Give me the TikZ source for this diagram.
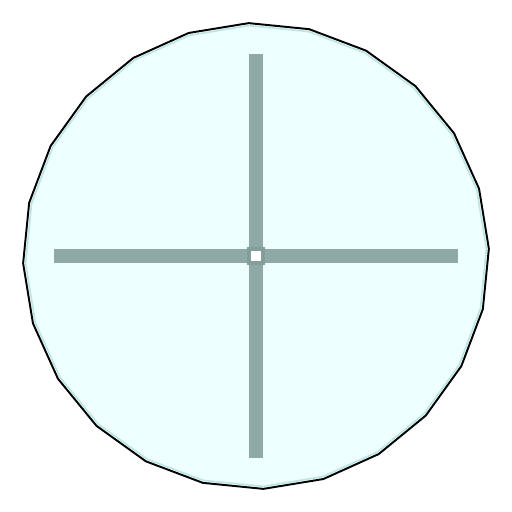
\documentclass[tikz,border=0pt]{standalone}
\definecolor{discfill}{RGB}{238,255,255}
\definecolor{rimcyan}{RGB}{190,228,228}
\definecolor{bargray}{RGB}{143,169,169}
\definecolor{hubgray}{RGB}{132,158,158}
\begin{document}
\begin{tikzpicture}[x=0.02cm, y=0.02cm,
    disc/.style={draw=black, fill=discfill, line width=1.1pt, line join=round},
    rim/.style ={draw=rimcyan, line width=0.9pt, line join=round},
    bar/.style ={fill=bargray},
    hub/.style ={fill=hubgray},
  ]
  \useasboundingbox (-256,-256) rectangle (256,256);
  % outer 24-gon
  \draw[disc] (1.8:233) \foreach \k in {1,...,23}{ -- ({1.8+\k*15}:233) } -- cycle;
  \draw[rim] (1.8:230.5) \foreach \k in {1,...,23}{ -- ({1.8+\k*15}:230.5) } -- cycle;
  % cross
  \fill[bar] (-7,-202) rectangle (7,202);
  \fill[bar] (-202,-7) rectangle (202,7);
  \fill[hub] (-9,-9) rectangle (9,9);
  \fill[white] (-5,-5) rectangle (5,5);
\end{tikzpicture}
\end{document}
